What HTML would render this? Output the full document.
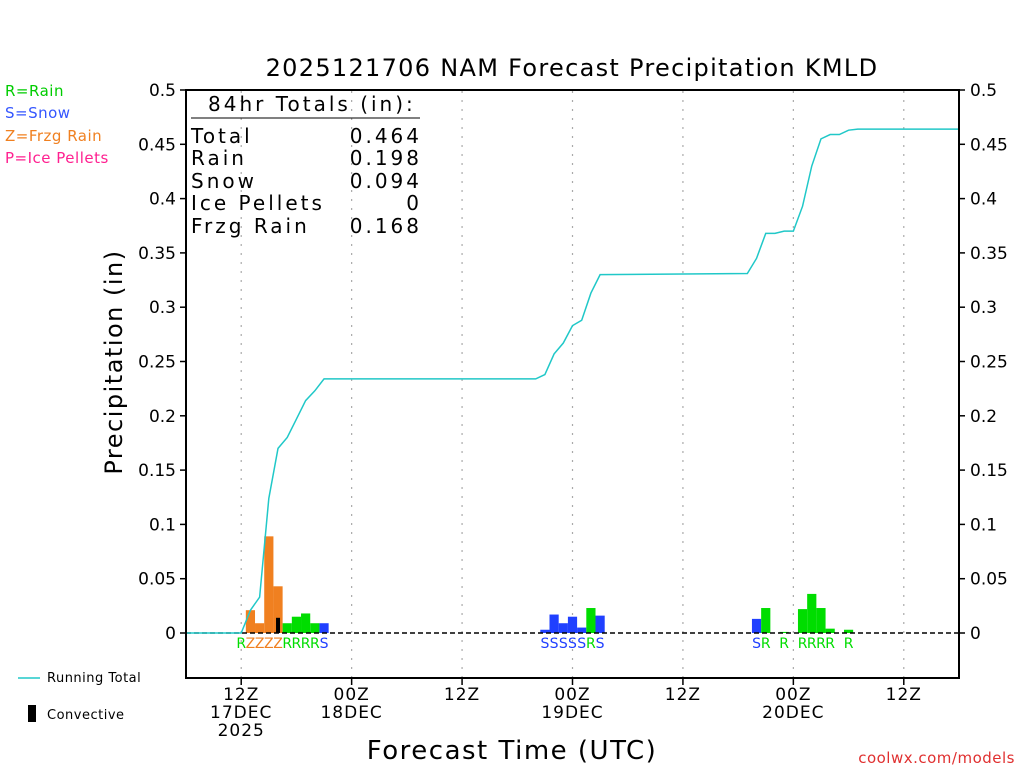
<!DOCTYPE html>
<html><head><meta charset="utf-8"><style>
body{margin:0;background:#fff;}
svg{display:block;font-family:"DejaVu Sans","Liberation Sans",sans-serif;}
</style></head><body>
<svg id="chart" width="1024" height="768" viewBox="0 0 1024 768">
<text x="572" y="76" font-size="24" text-anchor="middle" letter-spacing="1.3">2025121706 NAM Forecast Precipitation KMLD</text>
<g font-size="15" letter-spacing="0.5">
<text x="5" y="96" fill="#00cc00">R=Rain</text>
<text x="5" y="118" fill="#3355ff">S=Snow</text>
<text x="5" y="141" fill="#f08020">Z=Frzg Rain</text>
<text x="5" y="163" fill="#ff2090">P=Ice Pellets</text>
</g>
<g id="grid"></g>
<g id="bars"></g>
<line x1="186" y1="633" x2="959" y2="633" stroke="#000" stroke-width="1.5" stroke-dasharray="5,3"/>
<polyline id="runline" fill="none" stroke="#20c8c8" stroke-width="1.5"/>
<g id="labels" font-size="14"></g>
<rect x="186" y="90" width="773" height="588" fill="none" stroke="#000" stroke-width="2"/>
<g id="yticks" font-size="17"></g>
<g id="xticks" font-size="17"></g>
<g font-size="20" letter-spacing="3">
<text x="208" y="111">84hr Totals (in):</text>
<line x1="191" y1="118" x2="420" y2="118" stroke="#000" stroke-width="1"/>
<text x="191" y="143">Total</text><text x="422" y="143" text-anchor="end">0.464</text>
<text x="191" y="165">Rain</text><text x="422" y="165" text-anchor="end">0.198</text>
<text x="191" y="188">Snow</text><text x="422" y="188" text-anchor="end">0.094</text>
<text x="191" y="210">Ice Pellets</text><text x="422" y="210" text-anchor="end">0</text>
<text x="191" y="233">Frzg Rain</text><text x="422" y="233" text-anchor="end">0.168</text>
</g>
<text transform="translate(122,362) rotate(-90)" font-size="24" text-anchor="middle" letter-spacing="1.5">Precipitation (in)</text>
<text x="512" y="759" font-size="26" text-anchor="middle" letter-spacing="1.5">Forecast Time (UTC)</text>
<line x1="18" y1="678" x2="40" y2="678" stroke="#20c8c8" stroke-width="1.5"/>
<text x="47" y="682" font-size="13" letter-spacing="0.5">Running Total</text>
<rect x="28" y="705" width="8" height="17" fill="#000"/>
<text x="47" y="719" font-size="13" letter-spacing="0.5">Convective</text>
<text x="1015" y="763" font-size="15" fill="#e03030" text-anchor="end" letter-spacing="0.5">coolwx.com/models</text>
</svg>
<script>
const barHours = [6,7,8,9,10,11,12,13,14,15, 39,40,41,42,43,44,45, 62,63,65,67,68,69,70,72];
const barValues = [0,0.021,0.009,0.089,0.043,0.009,0.015,0.018,0.009,0.009, 0.003,0.017,0.009,0.015,0.005,0.023,0.016, 0.013,0.023,0.001,0.022,0.036,0.023,0.004,0.003];
const barTypes = ["R","Z","Z","Z","Z","R","R","R","R","S", "S","S","S","S","S","R","S", "S","R","R","R","R","R","R","R"];
const convHours = [10];
const convValues = [0.014];
const totalHours = [0,6,7,8,9,10,11,12,13,14,15,38,39,40,41,42,43,44,45,61,62,63,64,65,66,67,68,69,70,71,72,73,84];
const totalValues = [0,0,0.021,0.033,0.124,0.17,0.18,0.197,0.214,0.223,0.234,0.234,0.238,0.257,0.267,0.283,0.288,0.313,0.33,0.331,0.345,0.368,0.368,0.37,0.37,0.393,0.43,0.455,0.459,0.459,0.463,0.464,0.464];
const yTicks = [0,0.05,0.1,0.15,0.2,0.25,0.3,0.35,0.4,0.45,0.5];
const yTickLabels = ["0","0.05","0.1","0.15","0.2","0.25","0.3","0.35","0.4","0.45","0.5"];
const xTickHours = [6,18,30,42,54,66,78];
const xTickLabels = [["12Z","17DEC","2025"],["00Z","18DEC"],["12Z"],["00Z","19DEC"],["12Z"],["00Z","20DEC"],["12Z"]];
const colors = {R:"#00dd00",S:"#2040ff",Z:"#f08020",P:"#ff2090"};
const xs = h => 186 + h*(773/84);
const ys = v => 633 - v*(543/0.5);
const NS = "http://www.w3.org/2000/svg";
function mk(tag, attrs, parent){const e=document.createElementNS(NS,tag);for(const k in attrs)e.setAttribute(k,attrs[k]);parent.appendChild(e);return e;}
const bw = 773/84;
const gb = document.getElementById('bars'), gl = document.getElementById('labels');
barHours.forEach((h,i)=>{
  const v = barValues[i];
  if (v>0){
    const r = mk('rect',{x:xs(h)-bw/2,y:ys(v),width:bw,height:ys(0)-ys(v),fill:colors[barTypes[i]]},gb);
    
    
  }
  const t = mk('text',{x:xs(h),y:648,'text-anchor':'middle',fill:colors[barTypes[i]]},gl);
  t.textContent = barTypes[i];
  
  
});
convHours.forEach((h,i)=>{
  const r = mk('rect',{x:xs(h)-2,y:ys(convValues[i]),width:4,height:ys(0)-ys(convValues[i]),fill:"#000"},gb);
  
  
});
document.getElementById('runline').setAttribute('points', totalHours.map((h,i)=>xs(h)+','+ys(totalValues[i])).join(' '));
const gg = document.getElementById('grid'), gy = document.getElementById('yticks'), gx = document.getElementById('xticks');
yTicks.forEach((v,i)=>{
  const y = ys(v);
  mk('line',{x1:180,y1:y,x2:186,y2:y,stroke:'#000','stroke-width':1.5},gy);
  mk('line',{x1:959,y1:y,x2:965,y2:y,stroke:'#000','stroke-width':1.5},gy);
  const a = mk('text',{x:176,y:y+6,'text-anchor':'end'},gy); a.textContent=yTickLabels[i];
  
  
  const b = mk('text',{x:970,y:y+6},gy); b.textContent=yTickLabels[i];
  
  
});
xTickHours.forEach((h,i)=>{
  const x = xs(h);
  mk('line',{x1:x,y1:91,x2:x,y2:677,stroke:'#aaa','stroke-width':1.2,'stroke-dasharray':'2,7'},gg);
  mk('line',{x1:x,y1:678,x2:x,y2:685,stroke:'#000','stroke-width':1.5},gx);
  xTickLabels[i].forEach((s,j)=>{
    const t = mk('text',{x:x,y:700+j*18,'text-anchor':'middle','letter-spacing':1},gx); t.textContent=s;
    
    
  });
});
</script>
</body></html>
